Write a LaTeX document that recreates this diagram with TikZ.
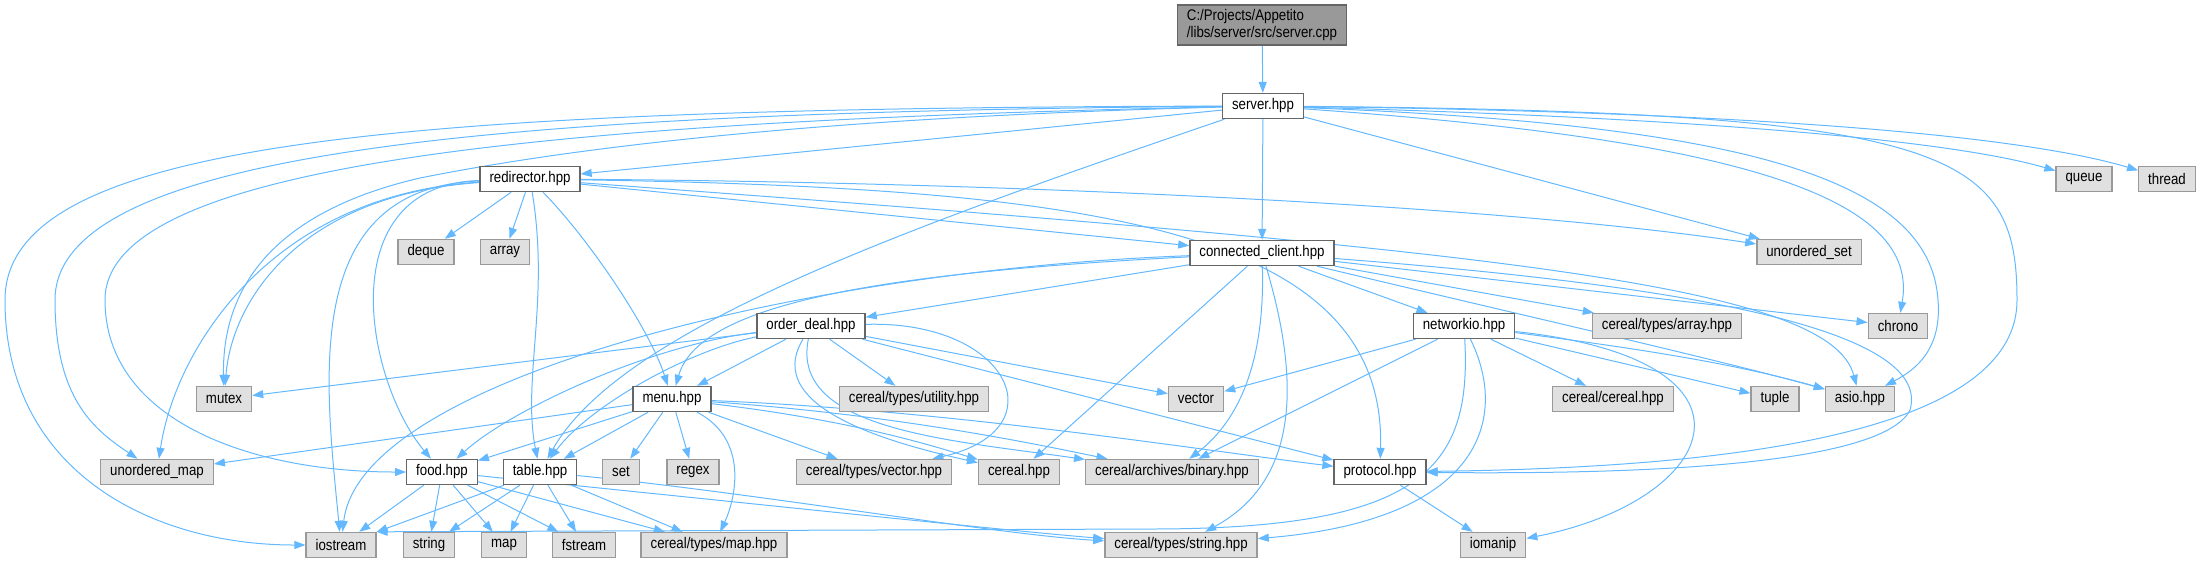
\documentclass[tikz,border=0pt]{standalone}
\usepackage{fontspec}
\setmainfont{Liberation Sans}[FakeStretch=0.86]
\usetikzlibrary{arrows.meta}
\definecolor{edgeblue}{HTML}{63B8FF}
\definecolor{sysfill}{HTML}{E0E0E0}
\definecolor{sysline}{HTML}{999999}
\definecolor{hdrline}{HTML}{666666}
\definecolor{rootfill}{HTML}{999999}
\pgfdeclarelayer{edges}
\pgfsetlayers{edges,main}

\begin{document}
\begin{tikzpicture}[
  x=0.5pt, y=-0.5pt,
  font=\fontsize{7.7}{8.6}\selectfont,
  hdr/.style={draw=hdrline, fill=white, line width=0.7pt, minimum height=12.5pt, inner xsep=4.75pt, inner ysep=0pt},
  sys/.style={hdr, draw=sysline, fill=sysfill},
  root/.style={hdr, fill=rootfill, align=left, minimum height=20pt},
  dep/.style={draw=edgeblue, line width=0.5pt, -{Triangle[length=5.5pt,width=4pt]}}]
\useasboundingbox (0,0) rectangle (2201,564);
\node[root] (cpp) at (1262,25) {C:/Projects/Appetito\\/libs/server/src/server.cpp};
\node[hdr] (server) at (1263,106) {server.hpp};
\node[hdr] (redir) at (530,179) {redirector.hpp};
\node[sys] (queue) at (2084,179) {queue};
\node[sys] (thread) at (2167,179) {thread};
\node[hdr] (client) at (1262,253) {connected\_client.hpp};
\node[sys] (deque) at (426,252) {deque};
\node[sys] (array) at (505,252) {array};
\node[sys] (uset) at (1809,252) {unordered\_set};
\node[hdr] (order) at (811,326) {order\_deal.hpp};
\node[hdr] (netio) at (1464,326) {networkio.hpp};
\node[sys] (carray) at (1667,326) {cereal/types/array.hpp};
\node[sys] (chrono) at (1898,326) {chrono};
\node[sys] (mutex) at (224,399) {mutex};
\node[hdr] (menu) at (672,399) {menu.hpp};
\node[sys] (cutil) at (914,399) {cereal/types/utility.hpp};
\node[sys] (vector) at (1196,399) {vector};
\node[sys] (ccereal) at (1613,399) {cereal/cereal.hpp};
\node[sys] (tuple) at (1775,399) {tuple};
\node[sys] (asio) at (1860,399) {asio.hpp};
\node[sys] (umap) at (157,472) {unordered\_map};
\node[hdr] (food) at (442,472) {food.hpp};
\node[hdr] (table) at (540,472) {table.hpp};
\node[sys] (set) at (621,472) {set};
\node[sys] (regex) at (693,472) {regex};
\node[sys] (cvector) at (874,472) {cereal/types/vector.hpp};
\node[sys] (cerealh) at (1019,472) {cereal.hpp};
\node[sys] (binary) at (1172,472) {cereal/archives/binary.hpp};
\node[hdr] (protocol) at (1380,472) {protocol.hpp};
\node[sys] (iostream) at (341,545) {iostream};
\node[sys] (string) at (429,545) {string};
\node[sys] (map) at (504,545) {map};
\node[sys] (fstream) at (584,545) {fstream};
\node[sys] (cmap) at (714,545) {cereal/types/map.hpp};
\node[sys] (cstring) at (1181,545) {cereal/types/string.hpp};
\node[sys] (iomanip) at (1493,545) {iomanip};
\begin{pgfonlayer}{edges}
% server.cpp / server.hpp
\draw[dep] (cpp) -- (server);
\draw[dep] (server) -- (redir);
\draw[dep] (server) -- (client);
\draw[dep] (server) .. controls (1700,118) and (1950,140) .. (queue);
\draw[dep] (server) .. controls (1750,112) and (2020,135) .. (thread);
\draw[dep] (server) -- (uset);
\draw[dep] (server) .. controls (1750,140) and (1920,200) .. (chrono);
\draw[dep] (server) .. controls (1750,125) and (1930,180) .. (1938,300) .. controls (1942,350) and (1915,370) .. (asio);
\draw[dep] (server) .. controls (1950,112) and (2017,150) .. (2017,300) .. controls (2017,440) and (1700,468) .. (protocol);
\draw[dep] (server) .. controls (900,230) and (620,330) .. (table);
\draw[dep] (server) .. controls (800,118) and (560,150) .. (420,178) .. controls (260,215) and (222,300) .. (mutex);
\draw[dep] (server) .. controls (500,112) and (55,150) .. (55,300) .. controls (55,400) and (95,430) .. (umap);
\draw[dep] (server) .. controls (400,108) and (5,140) .. (5,300) .. controls (5,470) and (150,545) .. (iostream);
\draw[dep] (server) .. controls (500,122) and (105,170) .. (105,300) .. controls (105,420) and (250,472) .. (food);
% redirector.hpp
\draw[dep] (redir) -- (deque);
\draw[dep] (redir) -- (array);
\draw[dep] (redir) -- (client);
\draw[dep] (redir) .. controls (1000,182) and (1500,205) .. (uset);
\draw[dep] (redir) .. controls (1100,188) and (1386,230) .. (protocol);
\draw[dep] (redir) .. controls (1500,250) and (1830,285) .. (asio);
\draw[dep] (redir) .. controls (300,195) and (232,300) .. (mutex);
\draw[dep] (redir) .. controls (270,195) and (175,350) .. (umap);
\draw[dep] (redir) .. controls (300,188) and (325,380) .. (iostream);
\draw[dep] (redir) .. controls (330,185) and (365,380) .. (food);
\draw[dep] (redir) .. controls (550,300) and (522,380) .. (table);
\draw[dep] (redir) .. controls (590,240) and (650,330) .. (menu);
% connected_client.hpp
\draw[dep] (client) -- (order);
\draw[dep] (client) -- (netio);
\draw[dep] (client) -- (carray);
\draw[dep] (client) -- (chrono);
\draw[dep] (client) .. controls (1500,310) and (1720,360) .. (asio);
\draw[dep] (client) .. controls (900,272) and (700,300) .. (menu);
\draw[dep] (client) .. controls (800,270) and (360,380) .. (iostream);
\draw[dep] (client) -- (cerealh);
\draw[dep] (client) .. controls (1265,360) and (1240,420) .. (binary);
\draw[dep] (client) .. controls (1300,380) and (1300,480) .. (cstring);
\draw[dep] (client) .. controls (1750,290) and (1930,340) .. (1910,410) .. controls (1880,470) and (1600,474) .. (protocol);
% order_deal.hpp
\draw[dep] (order) -- (mutex);
\draw[dep] (order) -- (menu);
\draw[dep] (order) .. controls (650,345) and (510,410) .. (food);
\draw[dep] (order) .. controls (690,350) and (590,405) .. (table);
\draw[dep] (order) -- (cutil);
\draw[dep] (order) -- (vector);
\draw[dep] (order) .. controls (1010,320) and (1060,430) .. (cvector);
\draw[dep] (order) .. controls (760,410) and (900,445) .. (cerealh);
\draw[dep] (order) .. controls (790,430) and (950,440) .. (binary);
\draw[dep] (order) -- (protocol);
% menu.hpp
\draw[dep] (menu) -- (umap);
\draw[dep] (menu) -- (food);
\draw[dep] (menu) -- (table);
\draw[dep] (menu) -- (set);
\draw[dep] (menu) -- (regex);
\draw[dep] (menu) .. controls (750,440) and (735,500) .. (cmap);
\draw[dep] (menu) -- (cvector);
\draw[dep] (menu) .. controls (850,420) and (930,445) .. (cerealh);
\draw[dep] (menu) .. controls (900,415) and (1040,445) .. (binary);
\draw[dep] (menu) .. controls (950,410) and (1200,450) .. (protocol);
% food.hpp, table.hpp
\draw[dep] (food) -- (iostream);
\draw[dep] (food) -- (string);
\draw[dep] (food) -- (map);
\draw[dep] (food) -- (fstream);
\draw[dep] (food) -- (cmap);
\draw[dep] (food) .. controls (700,498) and (1000,530) .. (cstring);
\draw[dep] (table) -- (iostream);
\draw[dep] (table) -- (string);
\draw[dep] (table) -- (map);
\draw[dep] (table) -- (fstream);
\draw[dep] (table) -- (cmap);
\draw[dep] (table) .. controls (750,492) and (1000,535) .. (cstring);
% networkio.hpp, protocol.hpp
\draw[dep] (netio) -- (vector);
\draw[dep] (netio) -- (binary);
\draw[dep] (netio) -- (ccereal);
\draw[dep] (netio) -- (tuple);
\draw[dep] (netio) .. controls (1650,350) and (1740,365) .. (asio);
\draw[dep] (netio) .. controls (1472,470) and (1420,529) .. (1150,529) -- (iostream.north east);
\draw[dep] (netio) .. controls (1510,420) and (1480,520) .. (cstring);
\draw[dep] (netio) .. controls (1780,360) and (1720,500) .. (iomanip);
\draw[dep] (protocol) -- (iomanip);
\end{pgfonlayer}
\end{tikzpicture}
\end{document}
